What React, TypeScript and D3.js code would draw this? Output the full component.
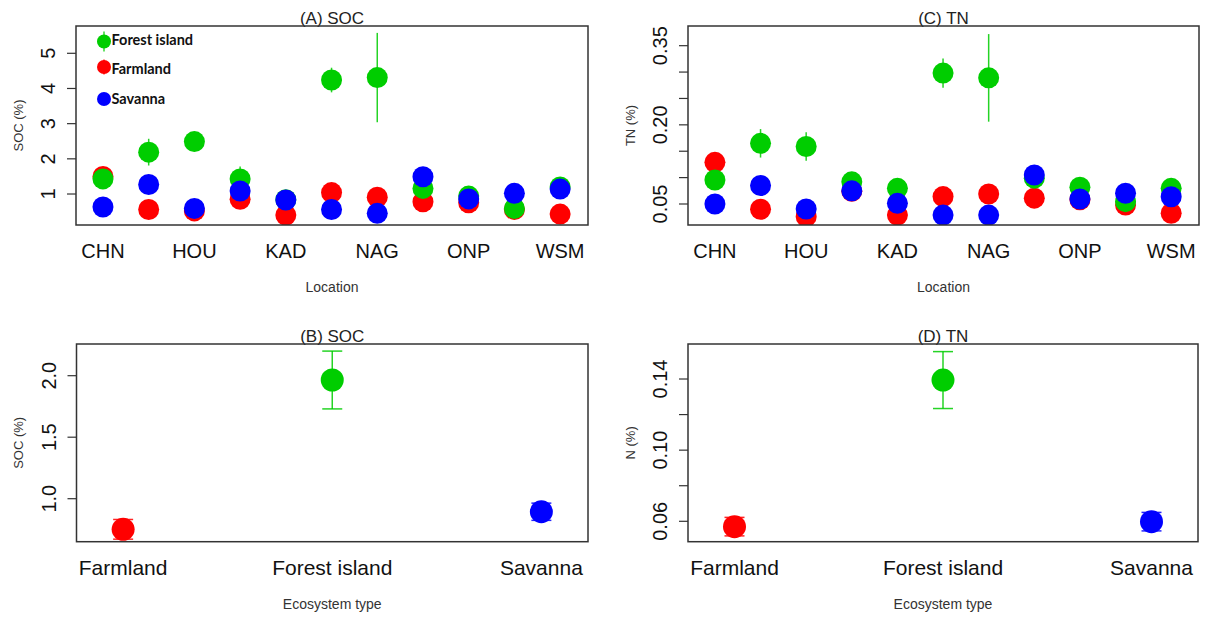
import React from "react";
import * as d3 from "d3";

// ---- data ----
const sites = d3.range(1, 12);
const siteLabels = ["CHN", "", "HOU", "", "KAD", "", "NAG", "", "ONP", "", "WSM"];

const seriesNames = ["Farmland", "Forest island", "Savanna"];
const seriesColors = ["#FF0000", "#00CD00", "#0000FF"];

// SOC (%) by site
const socFarmland = [1.5, 0.56, 0.52, 0.85, 0.4, 1.04, 0.91, 0.78, 0.75, 0.56, 0.43];
const socFarmlandSe = [0.08, 0.08, 0.06, 0.08, 0.06, 0.08, 0.08, 0.08, 0.06, 0.06, 0.06];
const socForest = [1.43, 2.19, 2.49, 1.43, 0.84, 4.24, 4.31, 1.16, 0.94, 0.59, 1.2];
const socForestSe = [0.12, 0.38, 0.2, 0.35, 0.08, 0.35, 1.27, 0.12, 0.08, 0.08, 0.1];
const socSavanna = [0.63, 1.27, 0.59, 1.085, 0.83, 0.56, 0.45, 1.49, 0.86, 1.02, 1.14];
const socSavannaSe = [0.06, 0.1, 0.06, 0.1, 0.08, 0.06, 0.06, 0.1, 0.06, 0.06, 0.08];

// TN (%) by site
const tnFarmland = [0.129, 0.04, 0.026, 0.074, 0.029, 0.064, 0.069, 0.061, 0.058, 0.048, 0.0324];
const tnFarmlandSe = [0.006, 0.004, 0.003, 0.004, 0.003, 0.004, 0.004, 0.004, 0.003, 0.003, 0.003];
const tnForest = [0.0955, 0.165, 0.159, 0.092, 0.0797, 0.298, 0.289, 0.099, 0.0817, 0.0544, 0.0797];
const tnForestSe = [0.006, 0.027, 0.027, 0.006, 0.005, 0.0275, 0.083, 0.006, 0.005, 0.004, 0.005];
const tnSavanna = [0.05, 0.085, 0.0405, 0.075, 0.0513, 0.029, 0.029, 0.105, 0.0595, 0.0703, 0.0638];
const tnSavannaSe = [0.004, 0.006, 0.003, 0.005, 0.004, 0.003, 0.003, 0.006, 0.004, 0.004, 0.004];

// Means by ecosystem type (Farmland, Forest island, Savanna)
const ecosystems = ["Farmland", "Forest island", "Savanna"];
const socByType = [0.751, 1.965, 0.894];
const socByTypeSe = [0.08, 0.235, 0.07];
const tnByType = [0.057, 0.1394, 0.0598];
const tnByTypeSe = [0.0052, 0.016, 0.0052];

// tick values
const socSiteTicks = [1, 2, 3, 4, 5];
const socSiteTickLabels = ["1", "2", "3", "4", "5"];
const tnSiteTicks = [0.05, 0.1, 0.15, 0.2, 0.25, 0.3, 0.35];
const tnSiteTickLabels = ["0.05", "", "", "0.20", "", "", "0.35"];
const socTypeTicks = [1.0, 1.5, 2.0];
const socTypeTickLabels = ["1.0", "1.5", "2.0"];
const tnTypeTicks = [0.06, 0.08, 0.1, 0.12, 0.14];
const tnTypeTickLabels = ["0.06", "", "0.10", "", "0.14"];

const legendOrder = [1, 0, 2]; // Forest island, Farmland, Savanna

const FONT = "'Liberation Sans', Arial, Helvetica, sans-serif";
const AXIS = "#333";

type Box = { x0: number; x1: number; y0: number; y1: number };

type Mark = { x: number; v: number; se: number; color: string };

function Panel(props: {
  box: Box;
  xDomain: [number, number];
  yDomain: [number, number];
  title: string;
  yTitle: string;
  xTitle: string;
  yTicks: number[];
  yTickLabels: string[];
  xTicks: number[];
  xTickLabels: string[];
  xLabelSize: number;
  marks: Mark[];
  radius: number;
  caps: boolean;
  children?: React.ReactNode;
}) {
  const { box } = props;
  const x = d3.scaleLinear().domain(props.xDomain).range([box.x0, box.x1]);
  const y = d3.scaleLinear().domain(props.yDomain).range([box.y1, box.y0]);
  const cx = (box.x0 + box.x1) / 2;
  const cy = (box.y0 + box.y1) / 2;
  const clipId = "clip-" + props.title.replace(/\W/g, "");
  return (
    <g>
      <text x={cx} y={box.y0 - 2} textAnchor="middle" fontFamily={FONT} fontSize={17} fill="#222">
        {props.title}
      </text>
      <text
        transform={`translate(${box.x0 - 53.5},${cy}) rotate(-90)`}
        textAnchor="middle"
        fontFamily={FONT}
        fontSize={13}
        fill="#333"
      >
        {props.yTitle}
      </text>
      <text x={cx} y={box.y1 + 67} textAnchor="middle" fontFamily={FONT} fontSize={14} fill="#333">
        {props.xTitle}
      </text>
      {props.yTicks.map((t, i) => (
        <g key={"yt" + i}>
          <line x1={box.x0 - 9} x2={box.x0} y1={y(t)} y2={y(t)} stroke={AXIS} strokeWidth={1.2} />
          {props.yTickLabels[i] ? (
            <text
              transform={`translate(${box.x0 - 21},${y(t)}) rotate(-90)`}
              textAnchor="middle"
              fontFamily={FONT}
              fontSize={20}
              fill="#111"
            >
              {props.yTickLabels[i]}
            </text>
          ) : null}
        </g>
      ))}
      {props.xTicks.map((t, i) =>
        props.xTickLabels[i] ? (
          <text
            key={"xt" + i}
            x={x(t)}
            y={box.y1 + 33}
            textAnchor="middle"
            fontFamily={FONT}
            fontSize={props.xLabelSize}
            fill="#111"
          >
            {props.xTickLabels[i]}
          </text>
        ) : null
      )}
      <clipPath id={clipId}>
        <rect x={box.x0} y={box.y0} width={box.x1 - box.x0} height={box.y1 - box.y0} />
      </clipPath>
      <g clipPath={`url(#${clipId})`}>
        {props.marks.map((m, i) => (
          <g key={"m" + i}>
            <line
              x1={x(m.x)}
              x2={x(m.x)}
              y1={y(m.v - m.se)}
              y2={y(m.v + m.se)}
              stroke={m.color}
              strokeWidth={1.5}
              opacity={0.85}
            />
            {props.caps ? (
              <>
                <line x1={x(m.x) - 10} x2={x(m.x) + 10} y1={y(m.v - m.se)} y2={y(m.v - m.se)} stroke={m.color} strokeWidth={1.5} opacity={0.85} />
                <line x1={x(m.x) - 10} x2={x(m.x) + 10} y1={y(m.v + m.se)} y2={y(m.v + m.se)} stroke={m.color} strokeWidth={1.5} opacity={0.85} />
              </>
            ) : null}
            <circle cx={x(m.x)} cy={y(m.v)} r={props.radius} fill={m.color} />
          </g>
        ))}
      </g>
      {props.children}
      <rect
        x={box.x0}
        y={box.y0}
        width={box.x1 - box.x0}
        height={box.y1 - box.y0}
        fill="none"
        stroke={AXIS}
        strokeWidth={1.5}
      />
    </g>
  );
}

function siteMarks(values: number[][], ses: number[][]): Mark[] {
  const out: Mark[] = [];
  values.forEach((vals, s) => {
    vals.forEach((v, i) => out.push({ x: sites[i], v, se: ses[s][i], color: seriesColors[s] }));
  });
  return out;
}

function typeMarks(values: number[], ses: number[]): Mark[] {
  return values.map((v, i) => ({ x: i + 1, v, se: ses[i], color: seriesColors[i] }));
}

export default function App() {
  const boxA: Box = { x0: 76, x1: 588, y0: 26, y1: 225 };
  const boxC: Box = { x0: 688, x1: 1199, y0: 26, y1: 225 };
  const boxB: Box = { x0: 76.5, x1: 588, y0: 344, y1: 541.7 };
  const boxD: Box = { x0: 688, x1: 1198, y0: 344, y1: 541.7 };
  const siteX: [number, number] = [0.41, 11.61];
  const typeX: [number, number] = [0.777, 3.223];

  // legend rows inside panel A
  const legendRows = [
    { cy: 41.5, ty: 44.5, err: 10 },
    { cy: 67, ty: 73.5, err: 7.5 },
    { cy: 99, ty: 103.5, err: 0 },
  ];

  return (
    <svg
      width={1208}
      height={619}
      style={{ position: "absolute", left: 0, top: 0, display: "block", background: "#fff" }}
    >
      <rect width={1208} height={619} fill="#fff" />
      <Panel
        box={boxA}
        xDomain={siteX}
        yDomain={[0.119, 5.776]}
        title="(A) SOC"
        yTitle="SOC (%)"
        xTitle="Location"
        yTicks={socSiteTicks}
        yTickLabels={socSiteTickLabels}
        xTicks={sites}
        xTickLabels={siteLabels}
        xLabelSize={20}
        marks={siteMarks([socFarmland, socForest, socSavanna], [socFarmlandSe, socForestSe, socSavannaSe])}
        radius={10.5}
        caps={false}
      >
        {legendOrder.map((s, i) => (
          <g key={"lg" + s}>
            {legendRows[i].err > 0 ? (
              <line
                x1={104}
                x2={104}
                y1={legendRows[i].cy - legendRows[i].err}
                y2={legendRows[i].cy + legendRows[i].err}
                stroke={seriesColors[s]}
                strokeWidth={1.2}
              />
            ) : null}
            <circle cx={104} cy={legendRows[i].cy} r={7} fill={seriesColors[s]} />
            <text
              x={111.5}
              y={legendRows[i].ty}
              fontFamily="Lato, 'Open Sans', sans-serif"
              fontWeight="bold"
              fontSize={14.5}
              fill="#111"
            >
              {seriesNames[s]}
            </text>
          </g>
        ))}
      </Panel>
      <Panel
        box={boxC}
        xDomain={siteX}
        yDomain={[0.0102, 0.3873]}
        title="(C) TN"
        yTitle="TN (%)"
        xTitle="Location"
        yTicks={tnSiteTicks}
        yTickLabels={tnSiteTickLabels}
        xTicks={sites}
        xTickLabels={siteLabels}
        xLabelSize={20}
        marks={siteMarks([tnFarmland, tnForest, tnSavanna], [tnFarmlandSe, tnForestSe, tnSavannaSe])}
        radius={10.5}
        caps={false}
      />
      <Panel
        box={boxB}
        xDomain={typeX}
        yDomain={[0.6504, 2.2577]}
        title="(B) SOC"
        yTitle="SOC (%)"
        xTitle="Ecosystem type"
        yTicks={socTypeTicks}
        yTickLabels={socTypeTickLabels}
        xTicks={[1, 2, 3]}
        xTickLabels={ecosystems}
        xLabelSize={21}
        marks={typeMarks(socByType, socByTypeSe)}
        radius={11.5}
        caps={true}
      />
      <Panel
        box={boxD}
        xDomain={typeX}
        yDomain={[0.04853, 0.15968]}
        title="(D) TN"
        yTitle="N (%)"
        xTitle="Ecosystem type"
        yTicks={tnTypeTicks}
        yTickLabels={tnTypeTickLabels}
        xTicks={[1, 2, 3]}
        xTickLabels={ecosystems}
        xLabelSize={21}
        marks={typeMarks(tnByType, tnByTypeSe)}
        radius={11.5}
        caps={true}
      />
    </svg>
  );
}
